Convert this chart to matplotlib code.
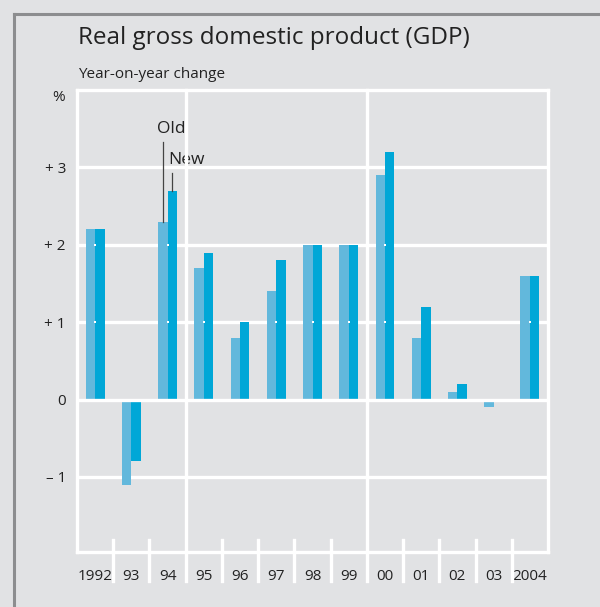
import matplotlib
matplotlib.use("Agg")
import matplotlib.pyplot as plt
from matplotlib.lines import Line2D
import matplotlib.transforms as mtransforms
import numpy as np

plt.rcParams['font.family'] = ['Open Sans', 'DejaVu Sans']

# data
years = ["1992", "93", "94", "95", "96", "97", "98", "99", "00", "01", "02", "03", "2004"]
old_values = [2.2, -1.1, 2.3, 1.7, 0.8, 1.4, 2.0, 2.0, 2.9, 0.8, 0.1, -0.1, 1.6]
new_values = [2.2, -0.8, 2.7, 1.9, 1.0, 1.8, 2.0, 2.0, 3.2, 1.2, 0.2, 0.0, 1.6]
grid_values = [-1, 1, 2, 3]
ytick_values = [3, 2, 1, 0, -1]
ytick_labels = ["+ 3", "+ 2", "+ 1", "0", "\u2013 1"]
period_breaks = [2.5, 7.5]  # full height lines between 94|95 and 99|00

bg = "#e1e2e4"
old_color = "#62b8dc"
new_color = "#00a7d7"
text_color = "#222222"

fig = plt.figure(figsize=(6.0, 6.07), dpi=100, facecolor=bg)

# outer frame (dark grey, opens to the right and bottom)
fig.add_artist(Line2D([14 / 600, 14 / 600], [0, 1 - 14 / 607], color="#8c8d8f", lw=2.2,
                      transform=fig.transFigure))
fig.add_artist(Line2D([14 / 600, 1], [1 - 14 / 607, 1 - 14 / 607], color="#8c8d8f", lw=2.2,
                      transform=fig.transFigure))

ax = fig.add_axes([77 / 600, 1 - 552 / 607, (548 - 77) / 600, (552 - 90) / 607])
ax.set_facecolor(bg)

x = np.arange(len(years))
w = 0.26
ax.bar(x - w / 2, old_values, width=w, color=old_color, zorder=2)
ax.bar(x + w / 2, new_values, width=w, color=new_color, zorder=2)

for g in grid_values:
    ax.axhline(g, color="white", lw=2.4, zorder=1)
ax.axhline(0, color="white", lw=2.4, zorder=3)

# small white dots where a gridline passes through both bars
for i in range(len(years)):
    lo = min(old_values[i], new_values[i])
    hi = max(old_values[i], new_values[i])
    for g in grid_values:
        if (g > 0 and lo > g) or (g < 0 and hi < g):
            ax.plot(x[i], g, marker="s", ms=1.8, color="white", mew=0, zorder=3)

ax.set_xlim(-0.5, len(years) - 0.5)
ax.set_ylim(-1.97, 4.0)

for s in ax.spines.values():
    s.set_color("white")
    s.set_linewidth(2.4)

trans = mtransforms.blended_transform_factory(ax.transData, ax.transAxes)
for i in range(len(years) - 1):
    xb = i + 0.5
    top = 1.0 if xb in period_breaks else 0.026
    ax.plot([xb, xb], [top, -0.062], color="white", lw=2.4, transform=trans,
            clip_on=False, zorder=4)

ax.set_xticks(x)
ax.set_xticklabels(years, fontsize=11, color=text_color)
ax.set_yticks(ytick_values)
ax.set_yticklabels(ytick_labels, fontsize=11, color=text_color)
ax.tick_params(axis="x", length=0, pad=12)
ax.tick_params(axis="y", length=0, pad=8)

pct_trans = ax.get_yaxis_transform() + mtransforms.ScaledTranslation(-12 / 100, 0, fig.dpi_scale_trans)
ax.text(0, 3.9, "%", transform=pct_trans, ha="right", va="center",
        fontsize=11, color=text_color)

# Old / New annotation on 1994
ax.plot([2 - w / 2, 2 - w / 2], [old_values[2], 3.33], color="#444444", lw=0.9, zorder=4)
ax.plot([2 + w / 2, 2 + w / 2], [new_values[2], 2.93], color="#444444", lw=0.9, zorder=4)
ax.text(2 - w / 2 - 0.15, 3.5, "Old", ha="left", va="center", fontsize=12.5, color=text_color)
ax.text(2 + w / 2 - 0.12, 3.09, "New", ha="left", va="center", fontsize=12.5, color=text_color)

fig.text(78 / 600, 1 - 38 / 607, "Real gross domestic product (GDP)", fontsize=17.5,
         color=text_color, ha="left", va="center")
fig.text(78 / 600, 1 - 75 / 607, "Year-on-year change", fontsize=11,
         color=text_color, ha="left", va="center")

fig.savefig("out.png", dpi=100, facecolor=bg)
